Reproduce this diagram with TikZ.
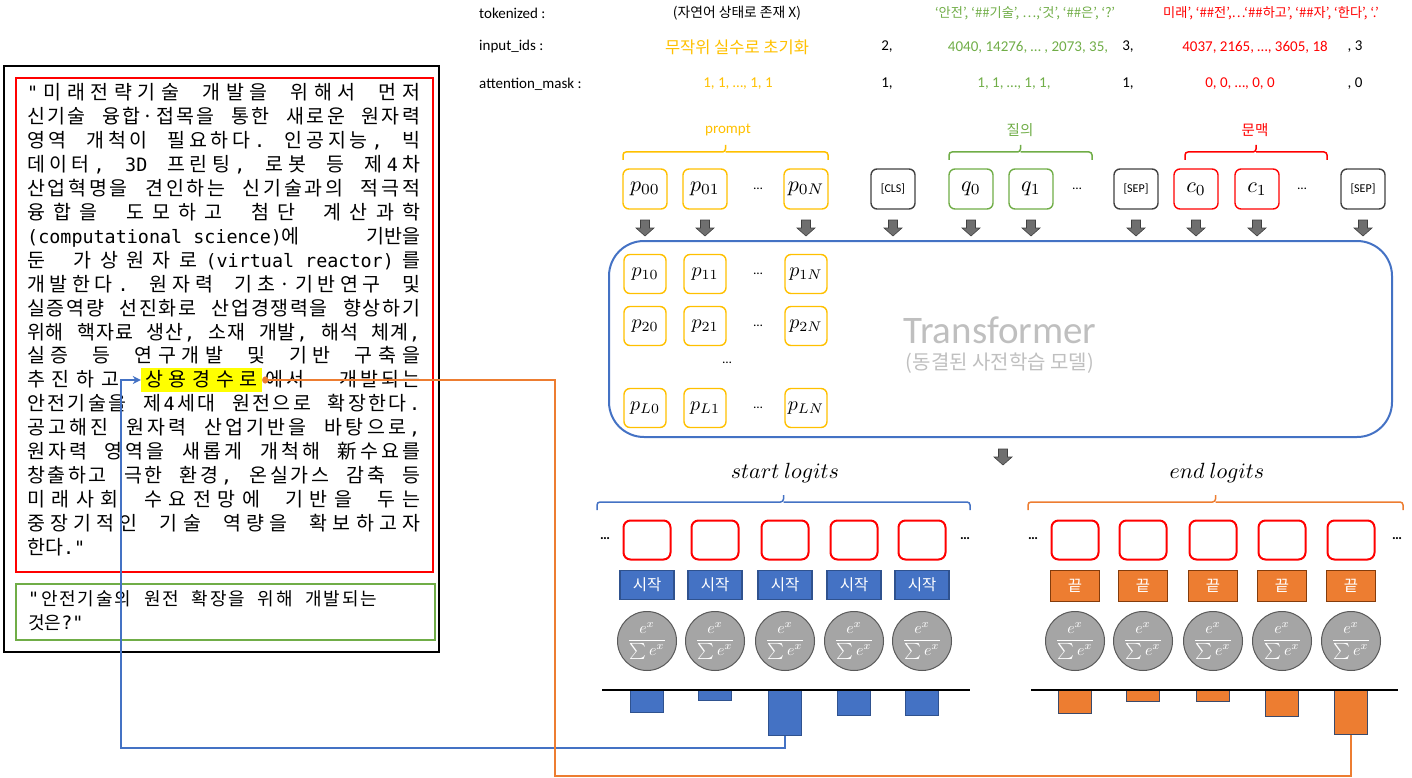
\documentclass[tikz,border=0pt]{standalone}
\usepackage{graphicx}
\usepackage{fontspec}
\setmainfont{Carlito}
\setmonofont{DejaVu Sans Mono}
\newfontfamily\kr{Noto Sans CJK KR}
\usetikzlibrary{arrows.meta}
\definecolor{cyel}{HTML}{FFC000}
\definecolor{cgrn}{HTML}{70AD47}
\definecolor{cred}{HTML}{FF0000}
\definecolor{cblu}{HTML}{4472C4}
\definecolor{cbld}{HTML}{2F528F}
\definecolor{corg}{HTML}{ED7D31}
\definecolor{corgd}{HTML}{843C0C}
\definecolor{cslate}{HTML}{3A4A6B}
\definecolor{cgry}{HTML}{A5A5A5}
\definecolor{cgrd}{HTML}{5A5A5A}
\definecolor{cdk}{HTML}{404040}
\definecolor{carr}{HTML}{6F6F6F}
\definecolor{ctxt}{HTML}{BFBFBF}
\definecolor{chl}{HTML}{FFFF00}
\newcommand\mt[1]{{\ttfamily\fontsize{18.4}{20}\selectfont #1}}
% letter-spread macro: | marks a word space
\newdimen\Jsp \Jsp=12pt
\def\Jend{\Jend}
\newcommand\J[1]{\Jloop#1\Jend}
\def\Jloop#1{\ifx\Jend#1\unskip\else\Jtok{#1}\expandafter\Jloop\fi}
\def\Jtok#1{\ifx|#1\hskip\Jsp plus 1fil\else #1\hskip 0pt plus 1fil\fi}
\newcommand\bodyln[2]{\node[body] (L#1) at (27,{100+(#1-1)*23.9}) {\makebox[393pt][s]{#2}};}
\newcommand\mybrc[4]{%
  \draw[brc, draw=#4] (#1,#3+8) -- (#1,#3) -- ({(#1+#2)/2},#3) -- ({(#1+#2)/2},#3-7);
  \draw[brc, draw=#4] ({(#1+#2)/2},#3) -- (#2,#3) -- (#2,#3+8);}
\newcommand\smx{\scalebox{1.6}{$\displaystyle\frac{e^{x}}{\textstyle\sum e^{x}}$}}
\begin{document}
\begin{tikzpicture}[x=1pt,y=-1pt,
  tok/.style={draw, rounded corners=6, line width=1.4, minimum width=44, minimum height=40, inner sep=0, font=\fontsize{10}{12}\selectfont},
  itok/.style={tok, draw=cyel, minimum width=42, minimum height=39},
  spc/.style={tok, draw=cdk, font=\fontsize{12}{12}\selectfont},
  dots/.style={inner sep=0, font=\fontsize{13}{13}\selectfont},
  bdots/.style={inner sep=0, font=\bfseries\fontsize{14}{14}\selectfont},
  hdr/.style={inner sep=0, font=\fontsize{15}{16}\selectfont},
  hkr/.style={inner sep=0, font=\kr\fontsize{13.2}{14}\selectfont},
  body/.style={inner sep=0, anchor=base west, font=\kr\fontsize{19.5}{20}\selectfont},
  lbox/.style={draw=cred, line width=2, rounded corners=7, minimum width=47, minimum height=39, inner sep=0},
  sbtn/.style={draw=cbld, fill=cblu, line width=1.2, minimum width=54, minimum height=29, inner sep=0, text=white, font=\kr\fontsize{15.5}{16}\selectfont},
  ebtn/.style={draw=corgd, fill=corg, line width=1.2, minimum width=49, minimum height=31, inner sep=0, text=white, font=\kr\fontsize{15.5}{16}\selectfont},
  smax/.style={circle, draw=cgrd, fill=cgry, line width=1, minimum size=59, inner sep=0, text=white, font=\fontsize{10}{12}\selectfont},
  sbar/.style={draw=cbld, fill=cblu, line width=1.2, minimum width=33, inner sep=0, anchor=north},
  ebar/.style={draw=cslate, fill=corg, line width=1.2, minimum width=33, inner sep=0, anchor=north},
  brc/.style={line width=1.5, rounded corners=3},
  conn/.style={line width=2},
  garrow/.pic={\fill[carr, draw=cdk, line width=0.6] (-4.5,-8) -- (4.5,-8) -- (4.5,0) -- (9,0) -- (0,8) -- (-9,0) -- (-4.5,0) -- cycle;}
]
\useasboundingbox (0,0) rectangle (1412,778);

% ---------- header rows ----------
\node[hdr, anchor=west] (hTok) at (479,13) {tokenized :};
\node[hdr, anchor=west] (hIds) at (479,47) {input\_ids :};
\node[hdr, anchor=west] (hMask) at (479,84) {attention\_mask :};

\node[hkr, font=\kr\fontsize{13.8}{14}\selectfont] (t1) at (737,13) {(자연어 상태로 존재 X)};
\node[hkr, text=cgrn] (t2) at (1025,13) {‘안전’, ‘\#\#기술’, …,‘것’, ‘\#\#은’, ‘?’};
\node[hkr, text=cred] (t3) at (1271,13) {미래’, ‘\#\#전’,…‘\#\#하고’, ‘\#\#자’, ‘한다’, ‘.’};

\node[hkr, text=cyel, font=\kr\fontsize{16.5}{17}\selectfont] (i1) at (737,47) {무작위 실수로 초기화};
\node[hdr] (i2) at (887,47) {2,};
\node[hdr, text=cgrn] (i3) at (1028,47) {4040, 14276, … , 2073, 35,};
\node[hdr] (i4) at (1128,47) {3,};
\node[hdr, text=cred] (i5) at (1255,47) {4037, 2165, …, 3605, 18};
\node[hdr] (i6) at (1355,47) {, 3};

\node[hdr, text=cyel] (m1) at (738,84) {1, 1, …, 1, 1};
\node[hdr] (m2) at (887,84) {1,};
\node[hdr, text=cgrn] (m3) at (1014,84) {1, 1, …, 1, 1,};
\node[hdr] (m4) at (1128,84) {1,};
\node[hdr, text=cred] (m5) at (1240,84) {0, 0, …, 0, 0};
\node[hdr] (m6) at (1355,84) {, 0};

% ---------- left panel ----------
\draw[line width=2] (4,66) rectangle (439,652);
\draw[cred, line width=2] (16,78) rectangle (433,572);
\draw[cgrn, line width=1.5] (16,584) rectangle (435,640);

\bodyln{1}{\J{{\mt{"}}미래전략기술|개발을|위해서|먼저}}
\bodyln{2}{\J{신기술|융합·접목을|통한|새로운|원자력}}
\bodyln{3}{\J{영역|개척이|필요하다{\mt{.}}|인공지능{\mt{,}}|빅}}
\bodyln{4}{\J{데이터{\mt{,}}|{\mt{3D}}|프린팅{\mt{,}}|로봇|등|제{\mt{4}}차}}
\bodyln{5}{\J{산업혁명을|견인하는|신기술과의|적극적}}
\bodyln{6}{\J{융합을|도모하고|첨단|계산과학}}
\bodyln{7}{\mt{(computational science)}에 기반을}
\bodyln{8}{\J{둔|가상원자로{\mt{(virtual reactor)}}를}}
\bodyln{9}{\J{개발한다{\mt{.}}|원자력|기초·기반연구|및}}
\bodyln{10}{\J{실증역량|선진화로|산업경쟁력을|향상하기}}
\bodyln{11}{\J{위해|핵자료|생산{\mt{,}}|소재|개발{\mt{,}}|해석|체계{\mt{,}}}}
\bodyln{12}{\J{실증|등|연구개발|및|기반|구축을}}
\node[body] (L13a) at (27,386.8) {\makebox[92pt][s]{\J{추진하고}}};
\node[body, anchor=base, fill=chl, text height=18.8pt, text depth=5.2pt, minimum width=121] (hl) at (201.5,386.8) {\makebox[112pt][s]{\J{상용경수로}}};
\node[body] (L13b) at (265,386.8) {\makebox[155pt][s]{에\hskip3pt 서\hfill 개\hskip3pt 발\hskip3pt 되\hskip3pt 는}};
\bodyln{14}{\J{안전기술을|제{\mt{4}}세대|원전으로|확장한다{\mt{.}}}}
\bodyln{15}{\J{공고해진|원자력|산업기반을|바탕으로{\mt{,}}}}
\bodyln{16}{\J{원자력|영역을|새롭게|개척해|新수요를}}
\bodyln{17}{\J{창출하고|극한|환경{\mt{,}}|온실가스|감축|등}}
\bodyln{18}{\J{미래사회|수요전망에|기반을|두는}}
\bodyln{19}{\J{중장기적인|기술|역량을|확보하고자}}
\node[body] (L20) at (27,{100+19*23.9}) {한다\mt{."}};

\node[body, font=\kr\fontsize{18}{20}\selectfont] (Q1) at (28,605) {\Jsp=9pt\makebox[349pt][s]{\J{{\mt{"}}안전기술의|원전|확장을|위해|개발되는}}};
\node[body, font=\kr\fontsize{18}{20}\selectfont] (Q2) at (28,629) {것은\mt{?"}};

% ---------- braces over tokens ----------
\mybrc{623}{828}{152}{cyel}
\mybrc{949}{1092}{152}{cgrn}
\mybrc{1185}{1327}{152}{cred}
\node[hdr, text=cyel] (lbP) at (728,130) {prompt};
\node[hkr, text=cgrn, font=\kr\fontsize{14.5}{15}\selectfont] (lbQ) at (1020,130) {질의};
\node[hkr, text=cred, font=\kr\fontsize{14.5}{15}\selectfont] (lbC) at (1255,130) {문맥};

% ---------- token row ----------
\node[tok, draw=cyel] (p00) at (645,189) {\scalebox{2.2}{$p_{00}$}};
\node[tok, draw=cyel] (p01) at (705,189) {\scalebox{2.2}{$p_{01}$}};
\node[dots] (d0) at (758,189) {…};
\node[tok, draw=cyel] (p0N) at (806,189) {\scalebox{2.2}{$p_{0N}$}};
\node[spc] (cls) at (893,189) {[CLS]};
\node[tok, draw=cgrn] (q0) at (971,189) {\scalebox{2.2}{$q_0$}};
\node[tok, draw=cgrn] (q1) at (1031,189) {\scalebox{2.2}{$q_1$}};
\node[dots] (dq) at (1077,189) {…};
\node[spc] (sep1) at (1136,189) {[SEP]};
\node[tok, draw=cred] (c0) at (1196,189) {\scalebox{2.2}{$c_0$}};
\node[tok, draw=cred] (c1) at (1257,189) {\scalebox{2.2}{$c_1$}};
\node[dots] (dc) at (1302,189) {…};
\node[spc] (sep2) at (1363,189) {[SEP]};

\foreach \x in {645,705,806,893,971,1031,1136,1196,1257,1363}
  \pic at (\x,228) {garrow};

% ---------- transformer ----------
\node[draw=cblu, line width=2, rounded corners=35, minimum width=783, minimum height=196, inner sep=0] (trans) at (1000.5,339) {};
\node[inner sep=0, text=ctxt, font=\fontsize{39}{39}\selectfont] (tname) at (1000,330) {Transformer};
\node[inner sep=0, text=ctxt, font=\kr\fontsize{20}{20}\selectfont] (tsub) at (1000,363) {(동결된 사전학습 모델)};

\node[itok] (p10) at (645,274) {\scalebox{2}{$p_{10}$}};
\node[itok] (p11) at (705,274) {\scalebox{2}{$p_{11}$}};
\node[dots] (d1) at (758,274) {…};
\node[itok] (p1N) at (806,274) {\scalebox{2}{$p_{1N}$}};
\node[itok] (p20) at (645,326) {\scalebox{2}{$p_{20}$}};
\node[itok] (p21) at (705,326) {\scalebox{2}{$p_{21}$}};
\node[dots] (d2) at (758,326) {…};
\node[itok] (p2N) at (806,326) {\scalebox{2}{$p_{2N}$}};
\node[dots] (dv) at (727,363) {…};
\node[itok] (pL0) at (645,408) {\scalebox{2}{$p_{L0}$}};
\node[itok] (pL1) at (705,408) {\scalebox{2}{$p_{L1}$}};
\node[dots] (dL) at (758,408) {…};
\node[itok] (pLN) at (806,408) {\scalebox{2}{$p_{LN}$}};

\pic at (1003,457) {garrow};

% ---------- start logits ----------
\node[inner sep=0] (stt) at (785,473) {\scalebox{2.2}{$start\ logits$}};
\mybrc{597}{970}{502}{cblu}
\node[bdots] (sdl) at (605,539) {…};
\node[bdots] (sdr) at (965,539) {…};
\foreach \x/\h [count=\i] in {647/22,715/10,785/45,854/25,922/25}{
  \node[lbox] (sr\i) at (\x,540) {};
  \node[sbtn] (sk\i) at (\x,585) {시작};
  \node[smax] (ss\i) at (\x,641) {\smx};
  \node[sbar, minimum height=\h] (sb\i) at (\x,690) {};
}
\draw[line width=1.2] (602,690) -- (970,690);

% ---------- end logits ----------
\node[inner sep=0] (ent) at (1217,473) {\scalebox{2.2}{$end\ logits$}};
\mybrc{1028}{1403}{502}{corg}
\node[bdots] (edl) at (1033,539) {…};
\node[bdots] (edr) at (1397,539) {…};
\foreach \x/\h [count=\i] in {1075/23,1143/11,1213/11,1282/26,1351/44}{
  \node[lbox] (er\i) at (\x,540) {};
  \node[ebtn] (ek\i) at (\x,586) {끝};
  \node[smax] (es\i) at (\x,641) {\smx};
  \node[ebar, minimum height=\h] (eb\i) at (\x,690) {};
}
\draw[line width=1.2] (1031,690) -- (1398,690);

% ---------- connectors ----------
\coordinate (bturn) at (121,748);
\coordinate (oturn) at (555,776);
\draw[conn, draw=cblu, -{Stealth[length=8pt,width=8pt]}] (sb3.south) |- (bturn) |- (hl.west);
\draw[conn, draw=corg, -{Circle[length=6pt,width=7pt]}] (eb5.south) |- (oturn) |- (hl.east);
\end{tikzpicture}
\end{document}
